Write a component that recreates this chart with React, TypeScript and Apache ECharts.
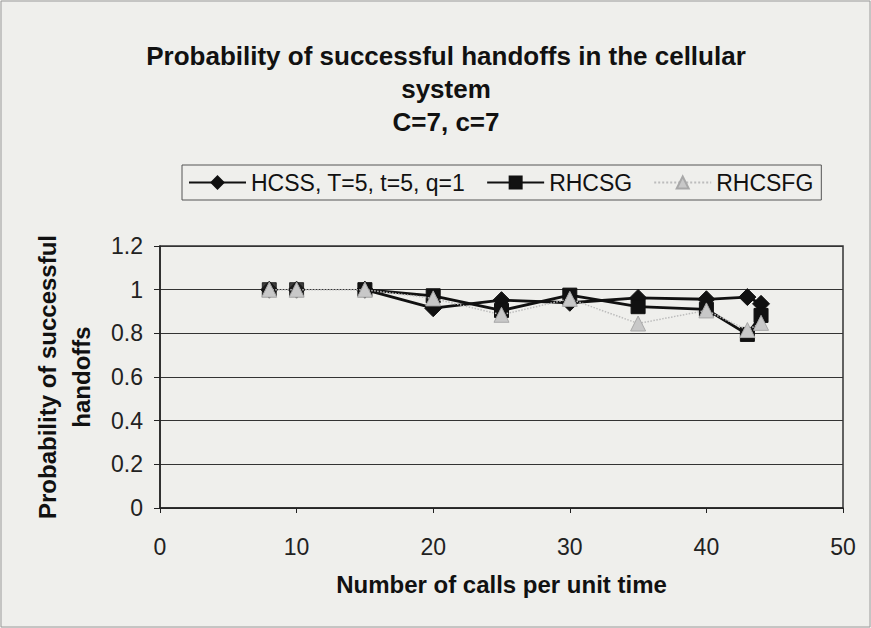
import React, { useEffect, useRef } from "react";
import * as echarts from "echarts";

const callsPerUnitTime = [8, 10, 15, 20, 25, 30, 35, 40, 43, 44];
const hcss = [1, 1, 1, 0.915, 0.952, 0.94, 0.962, 0.956, 0.966, 0.935];
const rhcsg = [1, 1, 1, 0.972, 0.905, 0.975, 0.922, 0.91, 0.795, 0.882];
const rhcsfg = [1, 1, 1, 0.96, 0.885, 0.958, 0.845, 0.905, 0.815, 0.848];
const seriesNames = ["HCSS, T=5, t=5, q=1", "RHCSG", "RHCSFG"];
const titleLines = ["Probability of successful handoffs in the cellular", "system", "C=7, c=7"];
const xAxisTitle = "Number of calls per unit time";
const yAxisTitle = "Probability of successful\nhandoffs";
// the two black series have no connecting segments before x=15 in the reference
const blackLineStart = 2;

const FONT = "Liberation Sans, Arial, sans-serif";

export default function App() {
  const ref = useRef<HTMLDivElement>(null);
  useEffect(() => {
    document.body.style.margin = "0";
    const chart = echarts.init(ref.current!, undefined, { renderer: "svg" });
    const pts = (ys: number[], from = 0) =>
      callsPerUnitTime.slice(from).map((x, i) => [x, ys[i + from]]);
    const black = "#111111";
    const grey = "#bcbcbc";
    const mk = (name: string, ys: number[], symbol: string, color: string, lineColor: string, lineType: any, lw: number, size: number, z: number, from: number, border: string) => {
      const out: any[] = [
        {
          name,
          type: "line",
          data: pts(ys, from),
          symbol,
          symbolSize: size,
          showSymbol: true,
          z,
          itemStyle: { color, borderColor: border, borderWidth: 1 },
          lineStyle: { color: lineColor, width: lw, type: lineType },
        },
      ];
      if (from > 0) {
        out.push({
          name,
          type: "scatter",
          data: pts(ys).slice(0, from),
          symbol,
          symbolSize: size,
          z,
          itemStyle: { color, borderColor: border, borderWidth: 1 },
        });
      }
      return out;
    };
    chart.setOption({
      animation: false,
      backgroundColor: "#efefec",
      textStyle: { fontFamily: FONT },
      title: {
        text: titleLines.join("\n"),
        left: 441,
        top: 34,
        textAlign: "center",
        textStyle: { fontFamily: FONT, fontSize: 26, fontWeight: "bold", color: "#111", lineHeight: 33 },
      },
      legend: {
        left: 182,
        top: 165,
        padding: [6, 8, 6, 6],
        itemGap: 21,
        itemWidth: 57,
        itemHeight: 15,
        borderColor: "#555",
        borderWidth: 1,
        data: seriesNames,
        textStyle: { fontFamily: FONT, fontSize: 23, color: "#111" },
      },
      grid: {
        left: 160,
        right: 28,
        top: 246,
        bottom: 120,
        show: true,
        borderColor: "#333",
        borderWidth: 1.5,
        backgroundColor: "transparent",
      },
      xAxis: {
        type: "value",
        min: 0,
        max: 50,
        interval: 10,
        name: xAxisTitle,
        nameLocation: "middle",
        nameGap: 64,
        nameTextStyle: { fontFamily: FONT, fontSize: 24, fontWeight: "bold", color: "#111" },
        axisLine: { show: true, lineStyle: { color: "#222", width: 1.5 } },
        axisTick: { show: true, length: 5, lineStyle: { color: "#222" } },
        axisLabel: { fontFamily: FONT, fontSize: 23, color: "#222", margin: 27 },
        splitLine: { show: false },
      },
      yAxis: {
        type: "value",
        min: 0,
        max: 1.2,
        interval: 0.2,
        name: yAxisTitle,
        nameLocation: "middle",
        nameGap: 62,
        nameTextStyle: { fontFamily: FONT, fontSize: 24, fontWeight: "bold", color: "#111", lineHeight: 34 },
        axisLine: { show: true, lineStyle: { color: "#222", width: 1.5 } },
        axisTick: { show: true, length: 6, lineStyle: { color: "#222" } },
        axisLabel: { fontFamily: FONT, fontSize: 23, color: "#222", margin: 17 },
        splitLine: { show: true, lineStyle: { color: "#333", width: 1 } },
      },
      series: [
        ...mk(seriesNames[0], hcss, "diamond", black, black, "solid", 2.8, 17, 3, blackLineStart, black),
        ...mk(seriesNames[1], rhcsg, "rect", black, black, "solid", 2.8, 14, 4, blackLineStart, black),
        ...mk(seriesNames[2], rhcsfg, "triangle", "#c8c8c8", grey, "dotted", 1.5, 15, 5, 0, "#a8a8a8"),
      ],
      graphic: [
        {
          type: "rect",
          shape: { x: 1, y: 1, width: 869, height: 626 },
          style: { fill: "none", stroke: "#9a9a9a", lineWidth: 1 },
          silent: true,
        },
      ],
    });
    return () => chart.dispose();
  }, []);
  return <div ref={ref} style={{ width: 871, height: 628 }} />;
}
